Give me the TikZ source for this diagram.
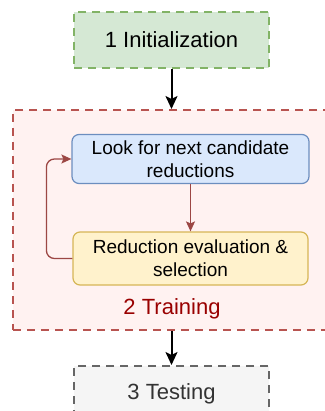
\documentclass[tikz,border=0pt]{standalone}
\usepackage{fontspec}
\setmainfont{Liberation Sans}
\usetikzlibrary{arrows.meta}
\definecolor{initfill}{HTML}{D5E8D4}
\definecolor{initline}{HTML}{82B366}
\definecolor{trainfill}{HTML}{FFF2F1}
\definecolor{trainline}{HTML}{B85450}
\definecolor{trainText}{HTML}{990000}
\definecolor{lookfill}{HTML}{DAE8FC}
\definecolor{lookline}{HTML}{6C8EBF}
\definecolor{evalfill}{HTML}{FFF2CC}
\definecolor{evalline}{HTML}{D6B656}
\definecolor{testfill}{HTML}{F5F5F5}
\definecolor{testline}{HTML}{666666}
\begin{document}
\begin{tikzpicture}[x=1pt,y=-1pt,
  phase/.style={line width=2pt,dash pattern=on 8pt off 6pt,minimum width=195pt,minimum height=56pt,inner sep=0pt,font=\fontsize{22}{26}\selectfont},
  stepbox/.style={rounded corners=7pt,line width=1.2pt,minimum width=237pt,minimum height=49pt,inner sep=0pt,align=center,font=\fontsize{19}{23}\selectfont},
  flow/.style={line width=2pt,-{Stealth[length=13pt,width=12pt,inset=3pt]}},
  loop/.style={line width=1.3pt,trainline!85!black,-{Stealth[length=10pt,width=9pt,inset=2pt]}}]
\useasboundingbox (0,0) rectangle (324,411);
\node[phase,draw=trainline,fill=trainfill,minimum width=322pt,minimum height=220pt] (train) at (174,220){};
\node[phase,draw=initline,fill=initfill] (init) at (171.5,40){1 Initialization};
\node[phase,draw=testline,fill=testfill,text=black!80] (test) at (171.5,394){3 Testing};
\node[stepbox,draw=lookline,fill=lookfill] (look) at (190.5,159){Look for next candidate\\reductions};
\node[stepbox,draw=evalline,fill=evalfill,minimum width=235pt,minimum height=53pt] (eval) at (190.5,258.5){Reduction evaluation \&\\selection};
\node[text=trainText,font=\fontsize{22}{26}\selectfont] (trainlabel) at (172,309){2 Training};
\draw[flow] (init.south) -- (init.south |- train.north);
\draw[flow] (init.south |- train.south) -- (test.north);
\draw[loop] (look.south -| eval.north) -- (eval.north);
\draw[loop,rounded corners=8pt] (eval.west) -- ++(-26,0) |- (look.west);
\end{tikzpicture}
\end{document}
